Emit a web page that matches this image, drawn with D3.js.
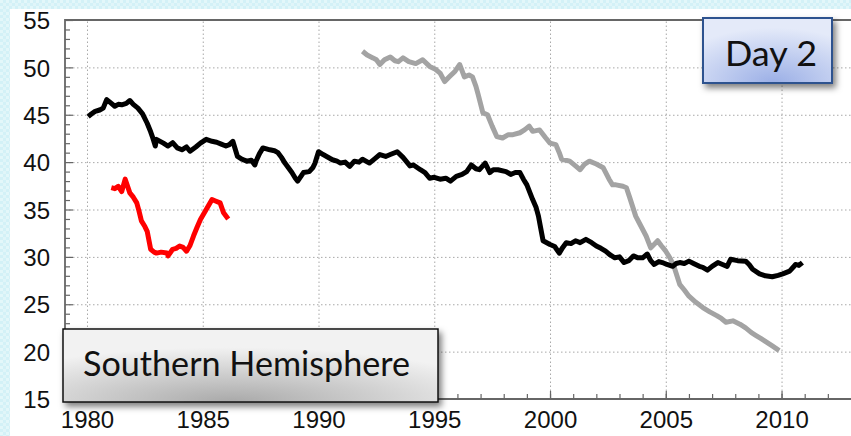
<!DOCTYPE html>
<html lang="en">
<head>
  <meta charset="UTF-8">
  <title>Southern Hemisphere</title>
  <style>
    html, body { margin: 0; padding: 0; background: #d9f3f8; overflow: hidden; }
  </style>
</head>
<script src="https://cdnjs.cloudflare.com/ajax/libs/d3/7.8.5/d3.min.js"></script>
<body>
    <div id="graph"></div>

    <script>

            // black series [year, value]
            var blackLine = [
                [1980.05,44.8],[1980.2,45.1],[1980.35,45.35],[1980.55,45.5],[1980.7,45.7],[1980.85,46.6],
                [1981.0,46.3],[1981.2,45.9],[1981.35,46.1],[1981.5,46.05],[1981.7,46.2],[1981.85,46.5],
                [1982.0,46.1],[1982.2,45.7],[1982.4,45.1],[1982.6,44.1],[1982.75,43.2],[1982.85,42.5],
                [1982.95,41.7],[1983.0,42.4],[1983.3,42.0],[1983.5,41.7],[1983.7,42.05],[1983.9,41.5],
                [1984.1,41.3],[1984.3,41.6],[1984.45,41.15],[1984.7,41.6],[1984.9,42.0],[1985.15,42.4],
                [1985.4,42.2],[1985.6,42.1],[1985.8,41.9],[1986.0,41.7],[1986.15,41.85],[1986.3,42.2],
                [1986.5,40.6],[1986.7,40.3],[1986.9,40.1],[1987.1,40.2],[1987.25,39.7],[1987.3,40.1],
                [1987.45,40.9],[1987.6,41.5],[1987.9,41.3],[1988.1,41.2],[1988.25,41.0],[1988.4,40.5],
                [1988.55,39.9],[1988.7,39.4],[1988.85,38.9],[1989.0,38.3],[1989.1,38.0],[1989.35,38.9],
                [1989.6,39.0],[1989.75,39.4],[1989.85,39.9],[1990.0,41.1],[1990.2,40.8],[1990.35,40.6],
                [1990.6,40.25],[1990.8,40.1],[1990.95,39.9],[1991.15,40.0],[1991.35,39.55],[1991.55,40.1],
                [1991.75,40.0],[1991.9,40.3],[1992.2,39.9],[1992.45,40.4],[1992.65,40.8],[1992.9,40.6],
                [1993.1,40.8],[1993.4,41.1],[1993.65,40.5],[1993.95,39.6],[1994.1,39.7],[1994.4,39.2],
                [1994.6,38.9],[1994.8,38.3],[1995.0,38.4],[1995.25,38.2],[1995.5,38.3],[1995.7,38.0],
                [1995.95,38.5],[1996.2,38.7],[1996.4,39.0],[1996.6,39.7],[1996.8,39.3],[1996.95,39.2],
                [1997.2,39.9],[1997.4,38.9],[1997.55,39.2],[1997.75,39.2],[1998.1,39.0],[1998.3,38.7],
                [1998.5,38.9],[1998.7,38.9],[1998.85,38.2],[1999.0,37.6],[1999.25,36.05],[1999.4,35.2],
                [1999.5,34.3],[1999.6,33.0],[1999.7,31.7],[2000.0,31.3],[2000.2,31.1],[2000.4,30.4],
                [2000.55,31.0],[2000.7,31.5],[2000.9,31.4],[2001.1,31.7],[2001.3,31.5],[2001.55,31.85],
                [2001.8,31.5],[2002.0,31.15],[2002.2,30.9],[2002.4,30.6],[2002.6,30.2],[2002.8,29.9],
                [2003.0,30.0],[2003.2,29.4],[2003.4,29.6],[2003.6,30.1],[2003.8,29.9],[2004.0,29.9],
                [2004.2,30.3],[2004.35,29.6],[2004.5,29.2],[2004.7,29.5],[2004.85,29.4],[2005.05,29.2],
                [2005.3,29.0],[2005.45,29.3],[2005.6,29.4],[2005.8,29.3],[2006.0,29.55],[2006.2,29.3],
                [2006.45,29.0],[2006.6,28.9],[2006.8,28.6],[2007.0,29.0],[2007.25,29.4],[2007.45,29.2],
                [2007.65,29.0],[2007.8,29.75],[2008.1,29.6],[2008.45,29.55],[2008.6,29.2],[2008.75,28.7],
                [2009.05,28.2],[2009.3,28.0],[2009.6,27.9],[2009.85,28.05],[2010.05,28.2],[2010.35,28.5],
                [2010.5,28.9],[2010.6,29.2],[2010.75,29.1],[2010.9,29.4]
            ]

            // red series [year, value]
            var redLine = [
                [1981.05,37.3],[1981.2,37.2],[1981.35,37.45],[1981.5,36.9],[1981.65,38.2],[1981.85,36.75],
                [1982.0,36.3],[1982.15,35.7],[1982.25,34.8],[1982.35,33.8],[1982.5,33.2],[1982.6,32.7],
                [1982.75,30.8],[1982.9,30.5],[1983.0,30.4],[1983.2,30.5],[1983.45,30.4],[1983.5,30.1],
                [1983.7,30.8],[1983.85,30.9],[1984.0,31.15],[1984.15,31.0],[1984.3,30.6],[1984.45,31.2],
                [1984.6,32.2],[1984.75,33.1],[1984.9,33.95],[1985.15,35.0],[1985.4,36.05],[1985.55,35.9],
                [1985.75,35.7],[1985.9,34.65],[1986.1,34.0]
            ]

            // grey series [year, value]
            var greyLine = [
                [1991.9,51.7],[1992.1,51.3],[1992.35,51.0],[1992.5,50.8],[1992.65,50.3],[1992.85,50.8],
                [1993.1,51.1],[1993.3,50.7],[1993.45,50.6],[1993.65,51.0],[1993.9,50.6],[1994.2,50.4],
                [1994.5,50.8],[1994.8,50.1],[1995.05,49.8],[1995.25,49.4],[1995.45,48.5],[1995.65,49.0],
                [1995.9,49.6],[1996.1,50.3],[1996.3,49.0],[1996.5,49.2],[1996.65,49.0],[1996.8,48.0],
                [1996.9,47.1],[1997.1,45.2],[1997.3,45.0],[1997.5,43.8],[1997.7,42.7],[1997.95,42.55],
                [1998.2,42.9],[1998.4,42.9],[1998.7,43.1],[1998.9,43.4],[1999.1,43.8],[1999.25,43.25],
                [1999.55,43.4],[1999.8,42.6],[2000.0,42.0],[2000.25,41.85],[2000.4,41.0],[2000.5,40.3],
                [2000.85,40.1],[2001.1,39.6],[2001.3,39.2],[2001.5,39.8],[2001.7,40.1],[2002.0,39.8],
                [2002.3,39.4],[2002.55,38.2],[2002.7,37.6],[2002.85,37.6],[2003.15,37.45],[2003.3,37.3],
                [2003.45,36.2],[2003.7,34.3],[2003.85,33.6],[2004.15,32.2],[2004.35,30.95],[2004.65,31.7],
                [2004.8,31.2],[2005.0,30.6],[2005.2,29.8],[2005.35,29.0],[2005.6,27.1],[2005.8,26.5],
                [2006.0,25.85],[2006.3,25.2],[2006.6,24.65],[2006.9,24.2],[2007.2,23.8],[2007.4,23.5],
                [2007.6,23.1],[2007.9,23.25],[2008.2,22.9],[2008.45,22.5],[2008.7,22.0],[2008.9,21.7],
                [2009.1,21.4],[2009.35,21.0],[2009.6,20.6],[2009.9,20.1]
            ]

            var xTickLabels = [1980, 1985, 1990, 1995, 2000, 2005, 2010]
            var yTickLabels = [15, 20, 25, 30, 35, 40, 45, 50, 55]
            var xMinorTicks = [1979, 1980, 1981, 1982, 1983, 1984, 1985, 1986, 1987, 1988, 1989, 1990, 1991, 1992,
                               1993, 1994, 1995, 1996, 1997, 1998, 1999, 2000, 2001, 2002, 2003, 2004, 2005, 2006,
                               2007, 2008, 2009, 2010, 2011, 2012]
            var yMinorTicks = [16, 17, 18, 19, 21, 22, 23, 24, 26, 27, 28, 29, 31, 32, 33, 34, 36, 37, 38, 39,
                               41, 42, 43, 44, 46, 47, 48, 49, 51, 52, 53, 54]

            var regionLabel = "Southern Hemisphere"
            var dayLabel = "Day 2"

            var W = 851, H = 436
            // plot edges (window.top is read-only, so keep own names)
            var plotL = 65, plotT = 20, plotB = 399, plotR = 851

            var svg = d3.select("#graph")
                    .append("svg")
                    .attr("width", W)
                    .attr("height", H)
                    .style("display", "block")

            var defs = svg.append("defs")

            // cyan textured background
            var pat = defs.append("pattern")
                .attr("id", "bgpat")
                .attr("width", 6).attr("height", 6)
                .attr("patternUnits", "userSpaceOnUse")
            pat.append("rect").attr("width", 6).attr("height", 6).attr("fill", "#d3f1f7")
            pat.append("rect").attr("x", 0).attr("y", 0).attr("width", 3).attr("height", 3).attr("fill", "#e3f7fa")
            pat.append("rect").attr("x", 3).attr("y", 3).attr("width", 3).attr("height", 3).attr("fill", "#e0f5f9")

            var shadow = defs.append("filter").attr("id", "shadow")
                .attr("x", "-10%").attr("y", "-10%").attr("width", "130%").attr("height", "140%")
            shadow.append("feDropShadow")
                .attr("dx", 3).attr("dy", 4)
                .attr("stdDeviation", 3)
                .attr("flood-color", "#000")
                .attr("flood-opacity", 0.5)

            var greyGrad = defs.append("radialGradient").attr("id", "greyGrad")
                .attr("cx", "45%").attr("cy", "100%").attr("r", "75%")
                .attr("fx", "45%").attr("fy", "100%")
            greyGrad.append("stop").attr("offset", "0%").attr("stop-color", "#a9a9a9")
            greyGrad.append("stop").attr("offset", "100%").attr("stop-color", "#f2f2f2")

            var blueGrad = defs.append("radialGradient").attr("id", "blueGrad")
                .attr("cx", "55%").attr("cy", "100%").attr("r", "85%")
                .attr("fx", "55%").attr("fy", "100%")
            blueGrad.append("stop").attr("offset", "0%").attr("stop-color", "#9bafe6")
            blueGrad.append("stop").attr("offset", "100%").attr("stop-color", "#e4eaf9")

            svg.append("rect").attr("width", W).attr("height", H).attr("fill", "url(#bgpat)")
            svg.append("rect").attr("x", 10).attr("y", 9).attr("width", W - 10).attr("height", H - 9).attr("fill", "#fff")

            var x = d3.scaleLinear().domain([1979.05, 2013]).range([plotL, plotR])
            var y = d3.scaleLinear().domain([15, 55]).range([plotB, plotT])

            // grid
            svg.append("g")
                .attr("transform", "translate(0," + plotB + ")")
                .call(d3.axisBottom(x).tickValues(xTickLabels).tickSize(-(plotB - plotT)).tickFormat(""))
                .call(g => g.select(".domain").remove())
                .selectAll("line")
                .attr("stroke", "#a8a8a8")
                .attr("stroke-width", 1)
                .attr("stroke-dasharray", "1.5,2.5")

            svg.append("g")
                .attr("transform", "translate(" + plotL + ",0)")
                .call(d3.axisLeft(y).tickValues(yTickLabels.filter(v => v > 15 && v < 55)).tickSize(-(plotR - plotL)).tickFormat(""))
                .call(g => g.select(".domain").remove())
                .selectAll("line")
                .attr("stroke", "#a8a8a8")
                .attr("stroke-width", 1)
                .attr("stroke-dasharray", "1.5,2.5")

            // minor ticks (inside)
            svg.append("g")
                .attr("transform", "translate(0," + plotB + ")")
                .call(d3.axisBottom(x).tickValues(xMinorTicks).tickSize(-5).tickFormat(""))
                .call(g => g.select(".domain").remove())
                .selectAll("line").attr("stroke", "#666").attr("stroke-width", 1.2)

            svg.append("g")
                .attr("transform", "translate(" + plotL + ",0)")
                .call(d3.axisLeft(y).tickValues(yMinorTicks).tickSize(-5).tickFormat(""))
                .call(g => g.select(".domain").remove())
                .selectAll("line").attr("stroke", "#666").attr("stroke-width", 1.2)

            // major ticks + labels
            var xAxis = svg.append("g")
                .attr("transform", "translate(0," + plotB + ")")
                .call(d3.axisBottom(x).tickValues(xTickLabels).tickSize(-8).tickPadding(18).tickFormat(d3.format("d")))
            xAxis.select(".domain").remove()
            xAxis.selectAll("line").attr("stroke", "#666").attr("stroke-width", 1.2)
            xAxis.selectAll("text")
                .attr("fill", "#111")
                .style("font-family", "'Liberation Sans', Arial, sans-serif")
                .style("font-size", "24px")
                .attr("y", 29)
                .attr("dy", 0)

            var yAxis = svg.append("g")
                .attr("transform", "translate(" + plotL + ",0)")
                .call(d3.axisLeft(y).tickValues(yTickLabels).tickSize(-8).tickPadding(15))
            yAxis.select(".domain").remove()
            yAxis.selectAll("line").attr("stroke", "#666").attr("stroke-width", 1.2)
            yAxis.selectAll("text")
                .attr("fill", "#111")
                .style("font-family", "'Liberation Sans', Arial, sans-serif")
                .style("font-size", "24px")
                .attr("dy", "0.36em")

            // frame
            svg.append("path")
                .attr("d", "M" + plotR + "," + plotT + "H" + plotL + "V" + plotB + "H" + plotR)
                .attr("fill", "none")
                .attr("stroke", "#666")
                .attr("stroke-width", 1.8)

            var line = d3.line()
                .x(d => x(d[0]))
                .y(d => y(d[1]))

            svg.append("path")
                .datum(greyLine)
                .attr("d", line)
                .attr("fill", "none")
                .attr("stroke", "#a3a3a3")
                .attr("stroke-width", 5)
                .attr("stroke-linejoin", "round")

            svg.append("path")
                .datum(blackLine)
                .attr("d", line)
                .attr("fill", "none")
                .attr("stroke", "#000")
                .attr("stroke-width", 5)
                .attr("stroke-linejoin", "round")

            svg.append("path")
                .datum(redLine)
                .attr("d", line)
                .attr("fill", "none")
                .attr("stroke", "#ff0000")
                .attr("stroke-width", 5)
                .attr("stroke-linejoin", "round")

            // label boxes
            svg.append("rect")
                .attr("x", 63).attr("y", 329)
                .attr("width", 375).attr("height", 73)
                .attr("fill", "url(#greyGrad)")
                .attr("stroke", "#111")
                .attr("stroke-width", 1.5)
                .attr("filter", "url(#shadow)")

            svg.append("text")
                .attr("x", 83).attr("y", 376)
                .attr("textLength", 327)
                .attr("lengthAdjust", "spacingAndGlyphs")
                .style("font-family", "Lato, 'Open Sans', sans-serif")
                .style("font-size", "35px")
                .attr("fill", "#111")
                .text(regionLabel)

            svg.append("rect")
                .attr("x", 703).attr("y", 18)
                .attr("width", 129).attr("height", 65)
                .attr("fill", "url(#blueGrad)")
                .attr("stroke", "#2f528f")
                .attr("stroke-width", 2)
                .attr("filter", "url(#shadow)")

            svg.append("text")
                .attr("x", 725).attr("y", 66)
                .attr("textLength", 92)
                .attr("lengthAdjust", "spacingAndGlyphs")
                .style("font-family", "Lato, 'Open Sans', sans-serif")
                .style("font-size", "35px")
                .attr("fill", "#111")
                .text(dayLabel)
    </script>

</body>
</html>
